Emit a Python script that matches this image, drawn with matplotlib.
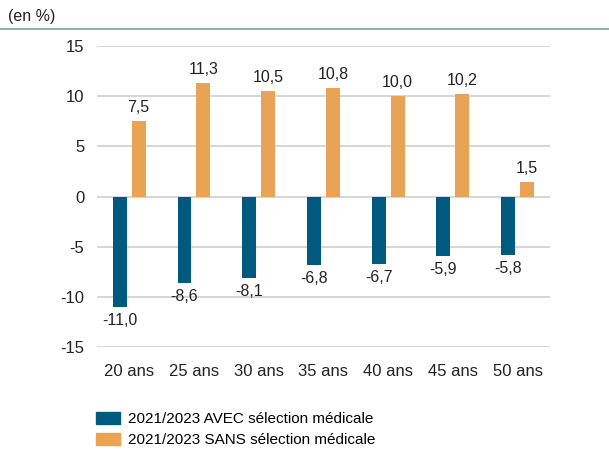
import matplotlib.pyplot as plt
import numpy as np
from matplotlib.patches import Patch
from matplotlib.lines import Line2D

plt.rcParams['font.family'] = ['Liberation Sans', 'DejaVu Sans']

categories = ["20 ans", "25 ans", "30 ans", "35 ans", "40 ans", "45 ans", "50 ans"]
avec = [-11.0, -8.6, -8.1, -6.8, -6.7, -5.9, -5.8]
sans = [7.5, 11.3, 10.5, 10.8, 10.0, 10.2, 1.5]
yticks = [-15, -10, -5, 0, 5, 10, 15]

blue = "#005a80"
orange = "#e8a355"
txt = "#222222"

fig = plt.figure(figsize=(6.09, 4.53), dpi=100)
ax = fig.add_axes([0.159, 0.234, 0.744, 0.664])

x = np.arange(len(categories))
w = 0.215
off = 0.146
ax.bar(x - off, avec, w, color=blue, zorder=3)
ax.bar(x + off, sans, w, color=orange, zorder=3)

def fmt(v):
    return "{:.1f}".format(v).replace(".", ",")

for i in range(len(categories)):
    ax.text(x[i] - off, avec[i] - 0.6, fmt(avec[i]), ha="center", va="top", fontsize=11.5, color=txt)
    ax.text(x[i] + off, sans[i] + 0.6, fmt(sans[i]), ha="center", va="bottom", fontsize=11.5, color=txt)

ax.set_xlim(-0.5, len(categories) - 0.5)
ax.set_ylim(-15, 15)
ax.set_yticks(yticks)
ax.set_yticklabels([str(t) for t in yticks])
ax.set_xticks(x)
ax.set_xticklabels(categories)
ax.tick_params(axis="both", length=0, labelsize=12, colors=txt)
ax.tick_params(axis="y", pad=9)
ax.tick_params(axis="x", pad=12)
ax.yaxis.grid(True, color="#cfcfcf", linewidth=1.2, zorder=0)
for s in ax.spines.values():
    s.set_visible(False)

fig.text(0.013, 0.963, "(en %)", fontsize=11.5, color=txt, va="center")
fig.add_artist(Line2D([0, 1], [0.936, 0.936], transform=fig.transFigure, color="#8fb5a6", linewidth=1.5))

handles = [Patch(color=blue), Patch(color=orange)]
labels = ["2021/2023 AVEC sélection médicale", "2021/2023 SANS sélection médicale"]
fig.legend(handles, labels, loc="upper left", bbox_to_anchor=(0.153, 0.098), frameon=False,
           fontsize=11, handlelength=1.55, handleheight=0.85, handletextpad=0.5, labelspacing=0.45,
           borderaxespad=0, borderpad=0.2)

fig.savefig("out.png", dpi=100)
